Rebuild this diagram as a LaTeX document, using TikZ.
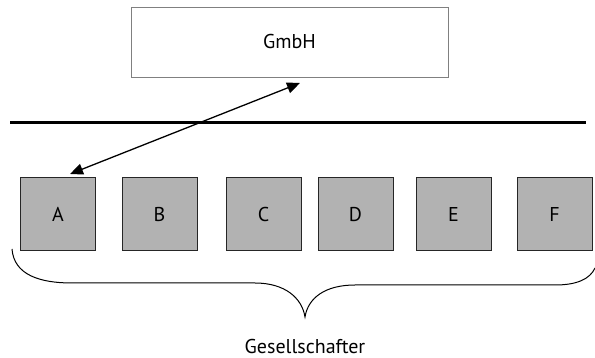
\documentclass[tikz,border=0pt]{standalone}
\usepackage{fontspec}
\setmainfont{PT Sans}
\usetikzlibrary{arrows.meta}
\begin{document}
\begin{tikzpicture}[x=1pt,y=-1pt,
  txt/.style={font=\fontsize{20}{24}\selectfont},
  member/.style={txt,draw=black!85,fill=black!30,line width=1pt,minimum width=75pt,minimum height=73pt,inner sep=0pt},
  company/.style={txt,draw=black!50,line width=0.8pt,minimum width=317pt,minimum height=70pt,inner sep=0pt},
  link/.style={line width=1.3pt,{Triangle[length=13pt,width=11pt]}-{Triangle[length=13pt,width=11pt]}}]
\useasboundingbox (0,0) rectangle (595,358);
% company box
\node[company] (gmbh) at (289.5,42) {GmbH};
% dividing bar
\coordinate (barL) at (10,123);
\coordinate (barR) at (586,123);
\draw[line width=3pt] (barL) -- (barR);
% members
\node[member] (A) at (58,214.5) {A};
\node[member] (B) at (159.5,214.5) {B};
\node[member] (C) at (263.5,214.5) {C};
\node[member] (D) at (355.5,214.5) {D};
\node[member] (E) at (453.5,214.5) {E};
\node[member] (F) at (554.5,214.5) {F};
% relation between member A and the company
\coordinate (tipG) at (300,83);
\coordinate (tipA) at (70,174);
\draw[link] (tipA) -- (tipG);
% brace over all members
\draw[line width=1pt] (12,249) .. controls (14,275) and (40,283) .. (72,283) -- (255,283)
  .. controls (285,283) and (302,298) .. (305,317)
  .. controls (308,298) and (325,285) .. (355,285) -- (555,285)
  .. controls (577,285) and (590,279) .. (595,268);
\node[txt] (label) at (305,346) {Gesellschafter};
\end{tikzpicture}
\end{document}
